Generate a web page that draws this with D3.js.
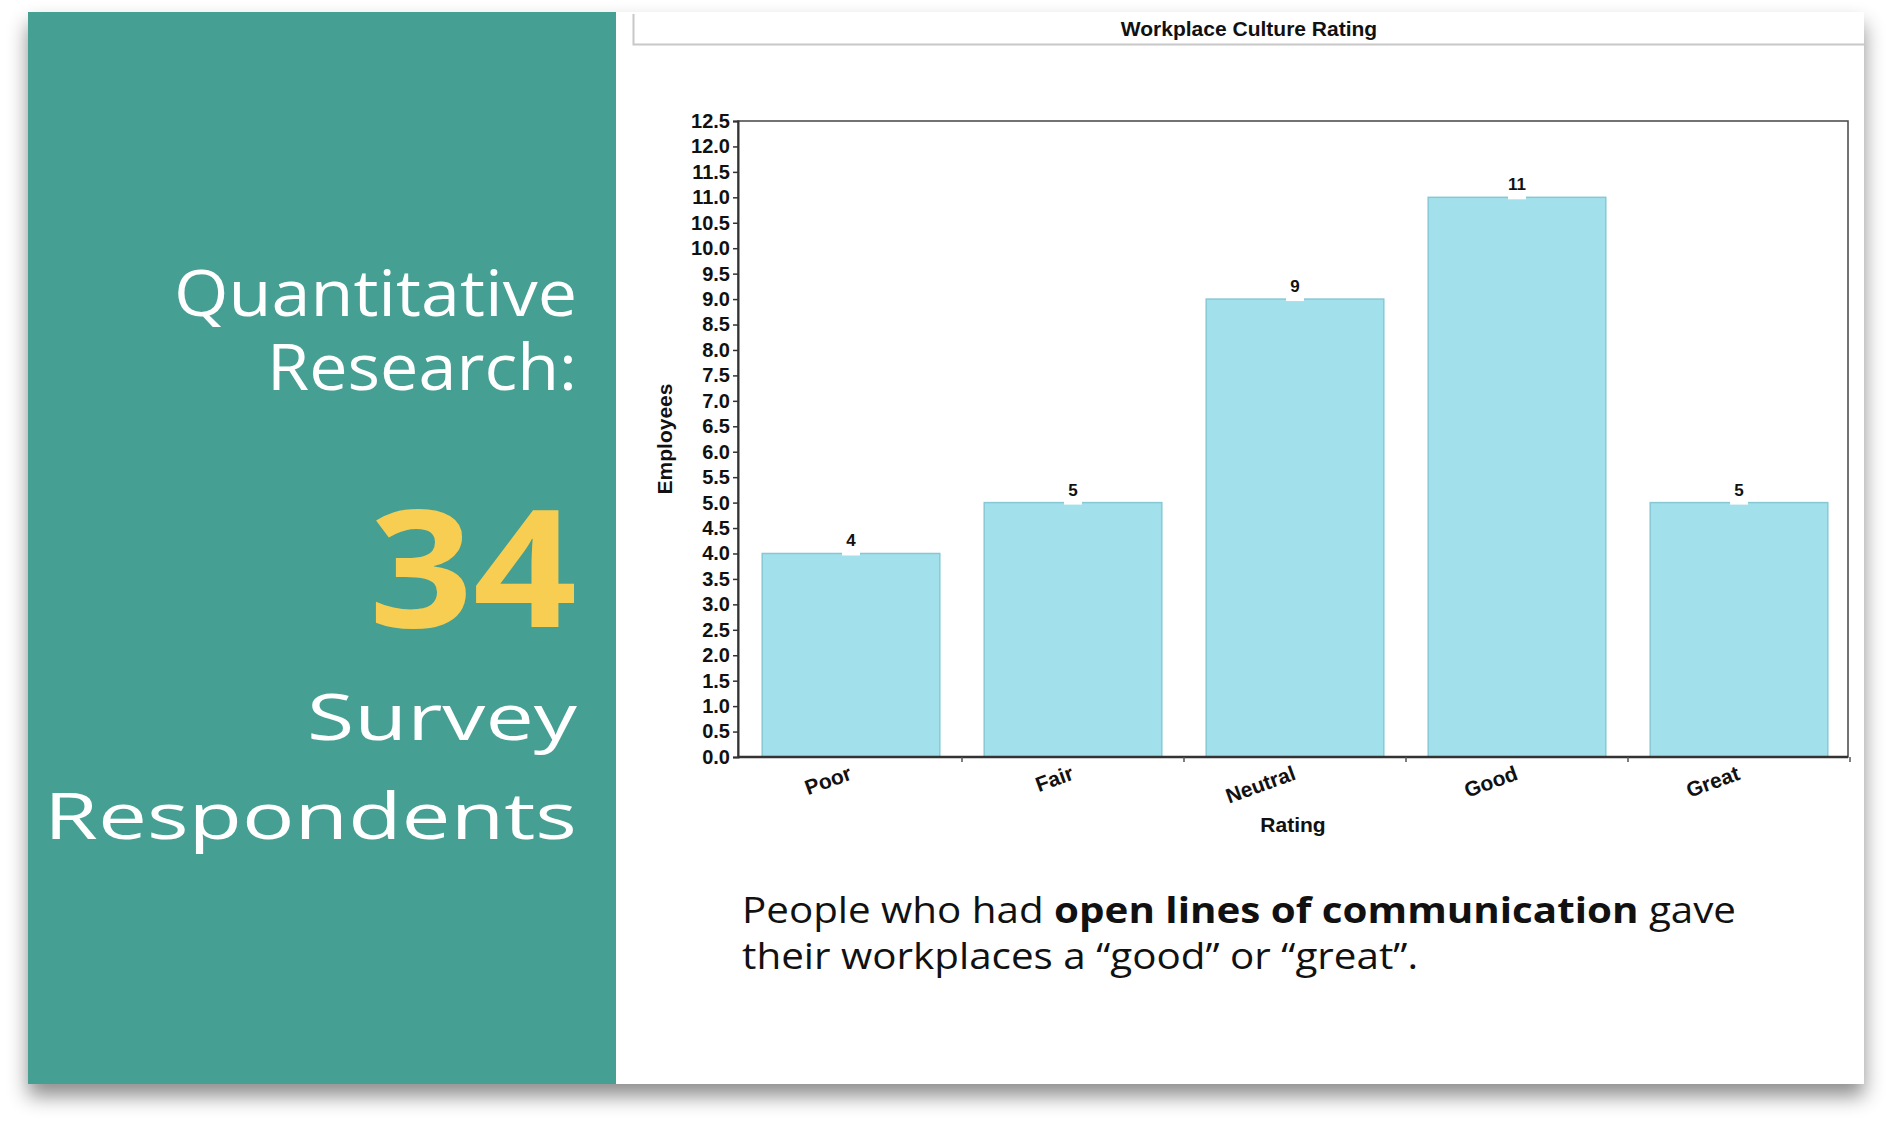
<!DOCTYPE html>
<html>
<head>
<meta charset="utf-8">
<script src="https://cdn.jsdelivr.net/npm/d3@7"></script>
<style>
  html, body { margin: 0; padding: 0; background: #fff; }
  svg { display: block; }
</style>
</head>
<body>
<svg></svg>
<script>
// chart data
const ratings = ["Poor", "Fair", "Neutral", "Good", "Great"];
const employees = [4, 5, 9, 11, 5];
const yTicks = d3.range(0, 26).map(i => i * 0.5);

const chartTitle = "Workplace Culture Rating";
const xTitle = "Rating";
const yTitle = "Employees";

const W = 1892, H = 1130;
const svg = d3.select("svg").attr("width", W).attr("height", H);

// drop shadow for the slide
const defs = svg.append("defs");
const f = defs.append("filter").attr("id", "shadow")
    .attr("x", "-5%").attr("y", "-5%").attr("width", "110%").attr("height", "115%");
f.append("feDropShadow").attr("dx", 0).attr("dy", 12).attr("stdDeviation", 10)
    .attr("flood-color", "#000").attr("flood-opacity", 0.45);

const slide = { x: 28, y: 12, w: 1836, h: 1072 };
svg.append("rect")
    .attr("x", slide.x).attr("y", slide.y).attr("width", slide.w).attr("height", slide.h)
    .attr("fill", "#fff").attr("filter", "url(#shadow)");

// teal panel
svg.append("rect")
    .attr("x", slide.x).attr("y", slide.y).attr("width", 616 - slide.x).attr("height", slide.h)
    .attr("fill", "#459f93");

// left side text, stretched a little to the width of the wide original typeface
const leftFont = "'Open Sans', 'Noto Sans', sans-serif";
const rightX = 577;
const leftLines = [
    { t: "Quantitative", y: 316, size: 64, len: 403, fill: "#fff", weight: 400 },
    { t: "Research:", y: 390, size: 64, len: 310, fill: "#fff", weight: 400 },
    { t: "34", y: 627, size: 164, len: 208, fill: "#f7ce51", weight: 700 },
    { t: "Survey", y: 740, size: 64, len: 270, fill: "#fff", weight: 400 },
    { t: "Respondents", y: 839, size: 64, len: 533, fill: "#fff", weight: 400 }
];
svg.selectAll(".left-text")
    .data(leftLines)
    .enter()
    .append("text")
    .attr("class", "left-text")
    .attr("x", d => rightX - d.len)
    .attr("y", d => d.y)
    .attr("textLength", d => d.len)
    .attr("lengthAdjust", "spacingAndGlyphs")
    .style("font-family", leftFont)
    .style("font-size", d => d.size + "px")
    .style("font-weight", d => d.weight)
    .attr("fill", d => d.fill)
    .text(d => d.t);

// chart title box
svg.append("rect")
    .attr("x", 633).attr("y", 14).attr("width", 1864 - 633).attr("height", 31)
    .attr("fill", "#fff");
svg.append("path")
    .attr("d", "M633.5,14 V44.5 H1864")
    .attr("fill", "none").attr("stroke", "#c8c8c8").attr("stroke-width", 2);
svg.append("text")
    .attr("x", 1249).attr("y", 36)
    .attr("text-anchor", "middle")
    .style("font-family", "'Liberation Sans', Arial, sans-serif")
    .style("font-weight", 700)
    .style("font-size", "21px")
    .attr("fill", "#111")
    .text(chartTitle);

// plot
const plot = { left: 738, right: 1848, top: 121, bottom: 757 };
const chartFont = "'Liberation Sans', Arial, sans-serif";

const x = d3.scaleBand()
    .domain(ratings)
    .range([plot.left + 2, plot.right + 2])
    .paddingInner(0.2)
    .paddingOuter(0.1);

const y = d3.scaleLinear()
    .domain([0, 12.5])
    .range([plot.bottom, plot.top]);

// plot frame
svg.append("rect")
    .attr("x", plot.left).attr("y", plot.top)
    .attr("width", plot.right - plot.left).attr("height", plot.bottom - plot.top)
    .attr("fill", "none").attr("stroke", "#444").attr("stroke-width", 1.5);

svg.selectAll(".bar")
    .data(ratings)
    .enter()
    .append("rect")
    .attr("class", "bar")
    .attr("x", d => x(d))
    .attr("y", (d, i) => y(employees[i]))
    .attr("width", x.bandwidth())
    .attr("height", (d, i) => y(0) - y(employees[i]))
    .attr("fill", "#a2e0eb")
    .attr("stroke", "#86c9d4")
    .attr("stroke-width", 1.5);

// value labels
const lbl = svg.selectAll(".val")
    .data(ratings)
    .enter()
    .append("g")
    .attr("class", "val")
    .attr("transform", (d, i) => `translate(${x(d) + x.bandwidth() / 2},${y(employees[i])})`);
lbl.append("rect")
    .attr("x", -9).attr("y", -2).attr("width", 18).attr("height", 4)
    .attr("fill", "#fff");
lbl.append("text")
    .attr("y", -7)
    .attr("text-anchor", "middle")
    .style("font-family", chartFont)
    .style("font-weight", 700)
    .style("font-size", "17px")
    .attr("fill", "#111")
    .text((d, i) => employees[i]);

// y axis
const yAxis = svg.append("g")
    .attr("transform", `translate(${plot.left},0)`)
    .call(d3.axisLeft(y).tickValues(yTicks).tickFormat(d3.format(".1f")).tickSize(5).tickPadding(3));
yAxis.select(".domain").attr("stroke", "#333").attr("stroke-width", 2);
yAxis.selectAll(".tick line").attr("stroke", "#333").attr("stroke-width", 1.5);
yAxis.selectAll(".tick text")
    .style("font-family", chartFont)
    .style("font-weight", 700)
    .style("font-size", "20px")
    .attr("fill", "#111");

// x axis
const xBottom = svg.append("g").attr("transform", `translate(0,${plot.bottom})`);
xBottom.append("line")
    .attr("x1", plot.left).attr("x2", plot.right)
    .attr("stroke", "#333").attr("stroke-width", 2.5);
const bounds = ratings.map(d => x(d) + x.bandwidth() + x.step() * x.paddingInner() / 2);
xBottom.selectAll(".xtick")
    .data(bounds)
    .enter()
    .append("line")
    .attr("class", "xtick")
    .attr("x1", d => d).attr("x2", d => d)
    .attr("y1", 0).attr("y2", 5)
    .attr("stroke", "#555").attr("stroke-width", 1.5);
xBottom.selectAll(".xlab")
    .data(ratings)
    .enter()
    .append("text")
    .attr("class", "xlab")
    .attr("transform", d => `translate(${x(d) + x.bandwidth() / 2 + 2},${22}) rotate(-20)`)
    .attr("text-anchor", "end")
    .style("font-family", chartFont)
    .style("font-weight", 700)
    .style("font-size", "21px")
    .attr("fill", "#111")
    .text(d => d);

svg.append("text")
    .attr("x", (plot.left + plot.right) / 2).attr("y", 832)
    .attr("text-anchor", "middle")
    .style("font-family", chartFont)
    .style("font-weight", 700)
    .style("font-size", "21px")
    .attr("fill", "#111")
    .text(xTitle);

svg.append("text")
    .attr("transform", `translate(672,${(plot.top + plot.bottom) / 2}) rotate(-90)`)
    .attr("text-anchor", "middle")
    .style("font-family", chartFont)
    .style("font-weight", 700)
    .style("font-size", "21px")
    .attr("fill", "#111")
    .text(yTitle);

// caption
const cap = svg.append("text")
    .attr("x", 742).attr("y", 923)
    .attr("textLength", 994)
    .attr("lengthAdjust", "spacingAndGlyphs")
    .style("font-family", leftFont)
    .style("font-size", "36px")
    .attr("fill", "#111");
cap.append("tspan").text("People who had ");
cap.append("tspan").style("font-weight", 700).text("open lines of communication");
cap.append("tspan").text(" gave");
svg.append("text")
    .attr("x", 742).attr("y", 969)
    .attr("textLength", 676)
    .attr("lengthAdjust", "spacingAndGlyphs")
    .style("font-family", leftFont)
    .style("font-size", "36px")
    .attr("fill", "#111")
    .text("their workplaces a \u201cgood\u201d or \u201cgreat\u201d.");
</script>
</body>
</html>
